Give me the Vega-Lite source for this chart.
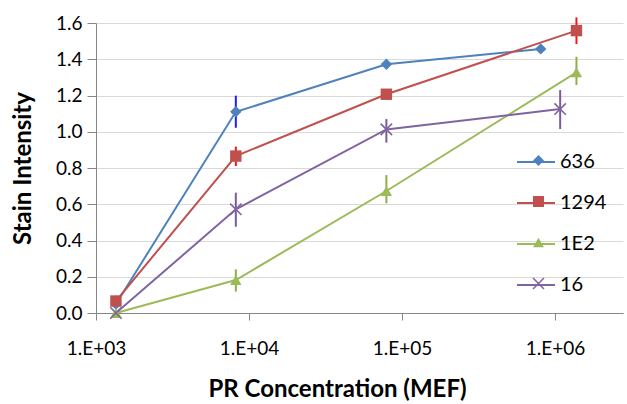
{
  "$schema": "https://vega.github.io/schema/vega-lite/v6.json",
  "width": 527,
  "height": 290,
  "autosize": {"type": "none"},
  "padding": {"left": 96, "top": 23, "right": 4, "bottom": 91},
  "background": "white",
  "config": {
    "view": {"stroke": null},
    "font": "Lato",
    "axis": {
      "labelFont": "Lato",
      "titleFont": "Lato",
      "labelColor": "#000000",
      "titleColor": "#000000",
      "domainColor": "#868686",
      "tickColor": "#868686",
      "gridColor": "#D9D9D9",
      "domainWidth": 1,
      "tickWidth": 1
    }
  },
  "data": {
    "values": [
      {"series": "636", "conc": 1350, "y": 0.05},
      {"series": "636", "conc": 8200, "y": 1.11, "lo": 1.022, "hi": 1.199},
      {"series": "636", "conc": 79000, "y": 1.372},
      {"series": "636", "conc": 806000, "y": 1.457},
      {"series": "1294", "conc": 1350, "y": 0.066, "lo": 0.04, "hi": 0.095},
      {"series": "1294", "conc": 8200, "y": 0.866, "lo": 0.811, "hi": 0.918},
      {"series": "1294", "conc": 79000, "y": 1.207, "lo": 1.18, "hi": 1.235},
      {"series": "1294", "conc": 1380000, "y": 1.558, "lo": 1.484, "hi": 1.631},
      {"series": "1E2", "conc": 1350, "y": 0.0},
      {"series": "1E2", "conc": 8200, "y": 0.182, "lo": 0.118, "hi": 0.241},
      {"series": "1E2", "conc": 79000, "y": 0.673, "lo": 0.605, "hi": 0.761},
      {"series": "1E2", "conc": 1380000, "y": 1.328, "lo": 1.258, "hi": 1.414},
      {"series": "16", "conc": 1350, "y": 0.0},
      {"series": "16", "conc": 8200, "y": 0.572, "lo": 0.476, "hi": 0.664},
      {"series": "16", "conc": 79000, "y": 1.013, "lo": 0.94, "hi": 1.07},
      {"series": "16", "conc": 1080000, "y": 1.125, "lo": 1.015, "hi": 1.23}
    ]
  },
  "encoding": {
    "x": {
      "field": "conc",
      "type": "quantitative",
      "scale": {"type": "log", "domain": [1000, 2780000], "nice": false},
      "axis": {
        "values": [1000, 10000, 100000, 1000000],
        "tickCount": 20,
        "labelExpr": "'1.E+' + format(log(datum.value)/LN10, '02.0f')",
        "grid": false,
        "tickSize": 7,
        "labelPadding": 19,
        "labelFontSize": 19,
        "labelFlush": false,
        "labelOverlap": false,
        "title": "PR Concentration (MEF)",
        "titleFontSize": 24,
        "titleFontWeight": "bold",
        "titleX": 241,
        "titleY": 76,
        "titleBaseline": "middle",
        "titleAlign": "center"
      }
    }
  },
  "layer": [
    {
      "mark": {"type": "line", "strokeWidth": 2},
      "encoding": {
        "y": {
          "field": "y",
          "type": "quantitative",
          "scale": {"domain": [0, 1.6], "nice": false, "zero": false},
          "axis": {
            "values": [0, 0.2, 0.4, 0.6, 0.8, 1.0, 1.2, 1.4, 1.6],
            "tickCount": 20,
            "format": ".1f",
            "tickSize": 9,
            "labelPadding": 5,
            "labelFontSize": 19,
            "labelOverlap": false,
            "grid": true,
            "title": "Stain Intensity",
            "titleFontSize": 24,
            "titleFontWeight": "bold",
            "titleAngle": -90,
            "titleX": -73,
            "titleY": 145,
            "titleBaseline": "middle",
            "titleAlign": "center"
          }
        },
        "color": {
          "field": "series",
          "type": "nominal",
          "scale": {"domain": ["636", "1294", "1E2", "16"], "range": ["#4F81BD", "#C0504D", "#9BBB59", "#8064A2"]},
          "legend": {
            "title": null,
            "orient": "none",
            "legendX": 420,
            "legendY": 119,
            "padding": 0,
            "rowPadding": 11,
            "labelFont": "Lato",
            "labelFontSize": 20,
            "labelColor": "#000000",
            "labelOffset": 4,
            "symbolType": "stroke",
            "symbolSize": 1444,
            "symbolStrokeWidth": 2
          }
        }
      }
    },
    {
      "mark": {"type": "rule", "strokeWidth": 2},
      "encoding": {
        "y": {"field": "lo", "type": "quantitative", "title": "Stain Intensity"},
        "y2": {"field": "hi"},
        "stroke": {
          "field": "series",
          "type": "nominal",
          "scale": {"domain": ["1294", "636", "1E2", "16"], "range": ["#F01818", "#1F1FF0", "#8DB04A", "#7A5C9E"]},
          "legend": null
        }
      }
    },
    {
      "mark": {"type": "point", "filled": true, "size": 130, "opacity": 1},
      "encoding": {
        "y": {"field": "y", "type": "quantitative", "title": "Stain Intensity"},
        "fill": {
          "field": "series",
          "type": "nominal",
          "scale": {"domain": ["16", "1E2", "1294", "636"], "range": ["#8064A2", "#9BBB59", "#C0504D", "#4F81BD"]},
          "legend": {
            "title": null,
            "values": ["636", "1294", "1E2", "16"],
            "labelExpr": "''",
            "orient": "none",
            "legendX": 433,
            "legendY": 128,
            "padding": 0,
            "rowPadding": 21,
            "labelFont": "Lato",
            "labelFontSize": 19,
            "labelColor": "transparent",
            "labelOffset": 4,
            "symbolSize": 120,
            "symbolStrokeWidth": 0
          }
        },
        "shape": {
          "field": "series",
          "type": "nominal",
          "scale": {
            "domain": ["16", "1E2", "1294", "636"],
            "range": ["M-0.9,-1.1L1.1,0.9L0.9,1.1L-1.1,-0.9ZM0.9,-1.1L1.1,-0.9L-0.9,1.1L-1.1,0.9Z", "triangle-up", "square", "diamond"]
          },
          "legend": {
            "title": null,
            "values": ["636", "1294", "1E2", "16"],
            "labelExpr": "''",
            "orient": "none",
            "legendX": 433,
            "legendY": 128,
            "padding": 0,
            "rowPadding": 21,
            "labelFont": "Lato",
            "labelFontSize": 19,
            "labelColor": "transparent",
            "labelOffset": 4,
            "symbolSize": 120,
            "symbolStrokeWidth": 0
          }
        }
      }
    }
  ]
}
